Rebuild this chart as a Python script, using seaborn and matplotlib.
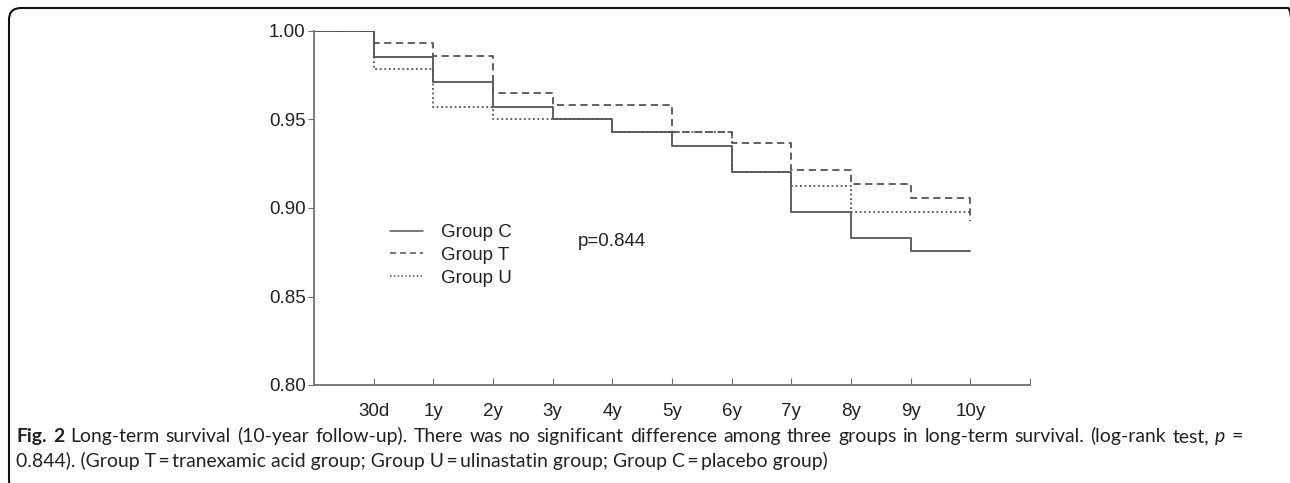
import numpy as np
import pandas as pd
import matplotlib.pyplot as plt
import matplotlib.transforms as mtransforms
from matplotlib.patches import FancyBboxPatch
import seaborn as sns

sns.set_style("ticks")
plt.rcParams['font.family'] = ['Liberation Sans', 'DejaVu Sans']

# Data: Kaplan-Meier step values
time_labels = ['30d', '1y', '2y', '3y', '4y', '5y', '6y', '7y', '8y', '9y', '10y']
time_pos = list(range(0, 12))  # 0 = start, 1 = 30d ... 11 = 10y
surv_c = [1.000, 0.9855, 0.9714, 0.957, 0.950, 0.943, 0.935, 0.9205, 0.898, 0.883, 0.8757, 0.8757]
surv_t = [1.000, 0.993, 0.986, 0.965, 0.958, 0.958, 0.943, 0.9365, 0.9215, 0.9136, 0.9058, 0.8928]
surv_u = [1.000, 0.9785, 0.957, 0.950, 0.950, 0.943, 0.943, 0.9205, 0.9126, 0.8976, 0.8976, 0.8976]
groups = ['Group C', 'Group T', 'Group U']

df = pd.concat([
    pd.DataFrame({'time': time_pos, 'surv': s, 'group': g})
    for g, s in zip(groups, [surv_c, surv_t, surv_u])
])

fig = plt.figure(figsize=(12.9, 4.83), dpi=100)
ax = fig.add_axes([314 / 1290, 1 - 385 / 483, 716 / 1290, 354 / 483])

line_col = '#555555'
sns.lineplot(data=df, x='time', y='surv', style='group', style_order=groups,
             dashes={'Group C': '', 'Group T': (4, 2.5), 'Group U': (1, 1.5)},
             color=line_col, drawstyle='steps-post', linewidth=1.3, ax=ax)

ax.set_xlim(0, 12)
ax.set_ylim(0.80, 1.00)
ax.set_xticks(list(range(1, 13)))
ax.set_xticklabels(time_labels + [''])
ax.set_yticks([0.80, 0.85, 0.90, 0.95, 1.00])
ax.set_yticklabels(['0.80', '0.85', '0.90', '0.95', '1.00'])
ax.set_xlabel('')
ax.set_ylabel('')
for side in ['top', 'right']:
    ax.spines[side].set_visible(False)
for side in ['left', 'bottom']:
    ax.spines[side].set_color('#707070')
    ax.spines[side].set_linewidth(1.3)
ax.tick_params(axis='x', direction='in', length=5, color='#707070', labelsize=13.5,
               pad=13, labelcolor='#222222')
ax.tick_params(axis='y', direction='out', length=4, color='#707070', labelsize=13.5,
               pad=2, labelcolor='#222222')

leg = ax.legend(loc='upper left', bbox_to_anchor=(390 / 1290, 1 - 224 / 483),
                bbox_transform=fig.transFigure, frameon=False, fontsize=13.5,
                handlelength=1.76, handletextpad=0.96, labelspacing=0.3,
                borderpad=0, borderaxespad=0, title=None)
for h in leg.get_lines():
    h.set_linewidth(1.1)
for t in leg.get_texts():
    t.set_color('#222222')

ax.text(4.42, 0.8813, 'p=0.844', fontsize=13.5, va='center', color='#222222')

# caption (first line justified to the column width, like the journal page)
cap_font = ['Lato', 'DejaVu Sans']
cap_size = 13.95
cap_col = '#222222'
line1_words = [('Fig.', 'bold'), ('2', 'bold')] + \
    [(w, 'normal') for w in ('Long-term survival (10-year follow-up). There was no significant '
                             'difference among three groups in long-term survival. '
                             '(log-rank test,').split()] + \
    [('p', 'italic'), ('=', 'normal')]
line2 = '0.844). (Group T\u2009=\u2009tranexamic acid group; Group U\u2009=\u2009ulinastatin group; ' \
        'Group C\u2009=\u2009placebo group)'
x_left, x_right = 16, 1243
y1 = 1 - 442 / 483

r = fig.canvas.get_renderer()
arts = []
for w, st in line1_words:
    kw = dict(fontsize=cap_size, family=cap_font, color=cap_col, va='baseline')
    if st == 'bold':
        kw['fontweight'] = 'bold'
    if st == 'italic':
        kw['style'] = 'italic'
    arts.append(fig.text(0, y1, w, **kw))
widths = [a.get_window_extent(r).width for a in arts]
gap = (x_right - x_left - sum(widths)) / (len(arts) - 1)
x = x_left
for a, wd in zip(arts, widths):
    a.set_x(x / 1290)
    x += wd + gap

fig.text(x_left / 1290, 1 - 467 / 483, line2, fontsize=cap_size, family=cap_font,
         color=cap_col, va='baseline')

# rounded frame around the figure
box = FancyBboxPatch((9, -9), 1291, 484, boxstyle='round,pad=0,rounding_size=12',
                     transform=mtransforms.IdentityTransform(), fill=False,
                     edgecolor='#111111', linewidth=1.5)
fig.add_artist(box)

fig.savefig('out.png', dpi=100)
